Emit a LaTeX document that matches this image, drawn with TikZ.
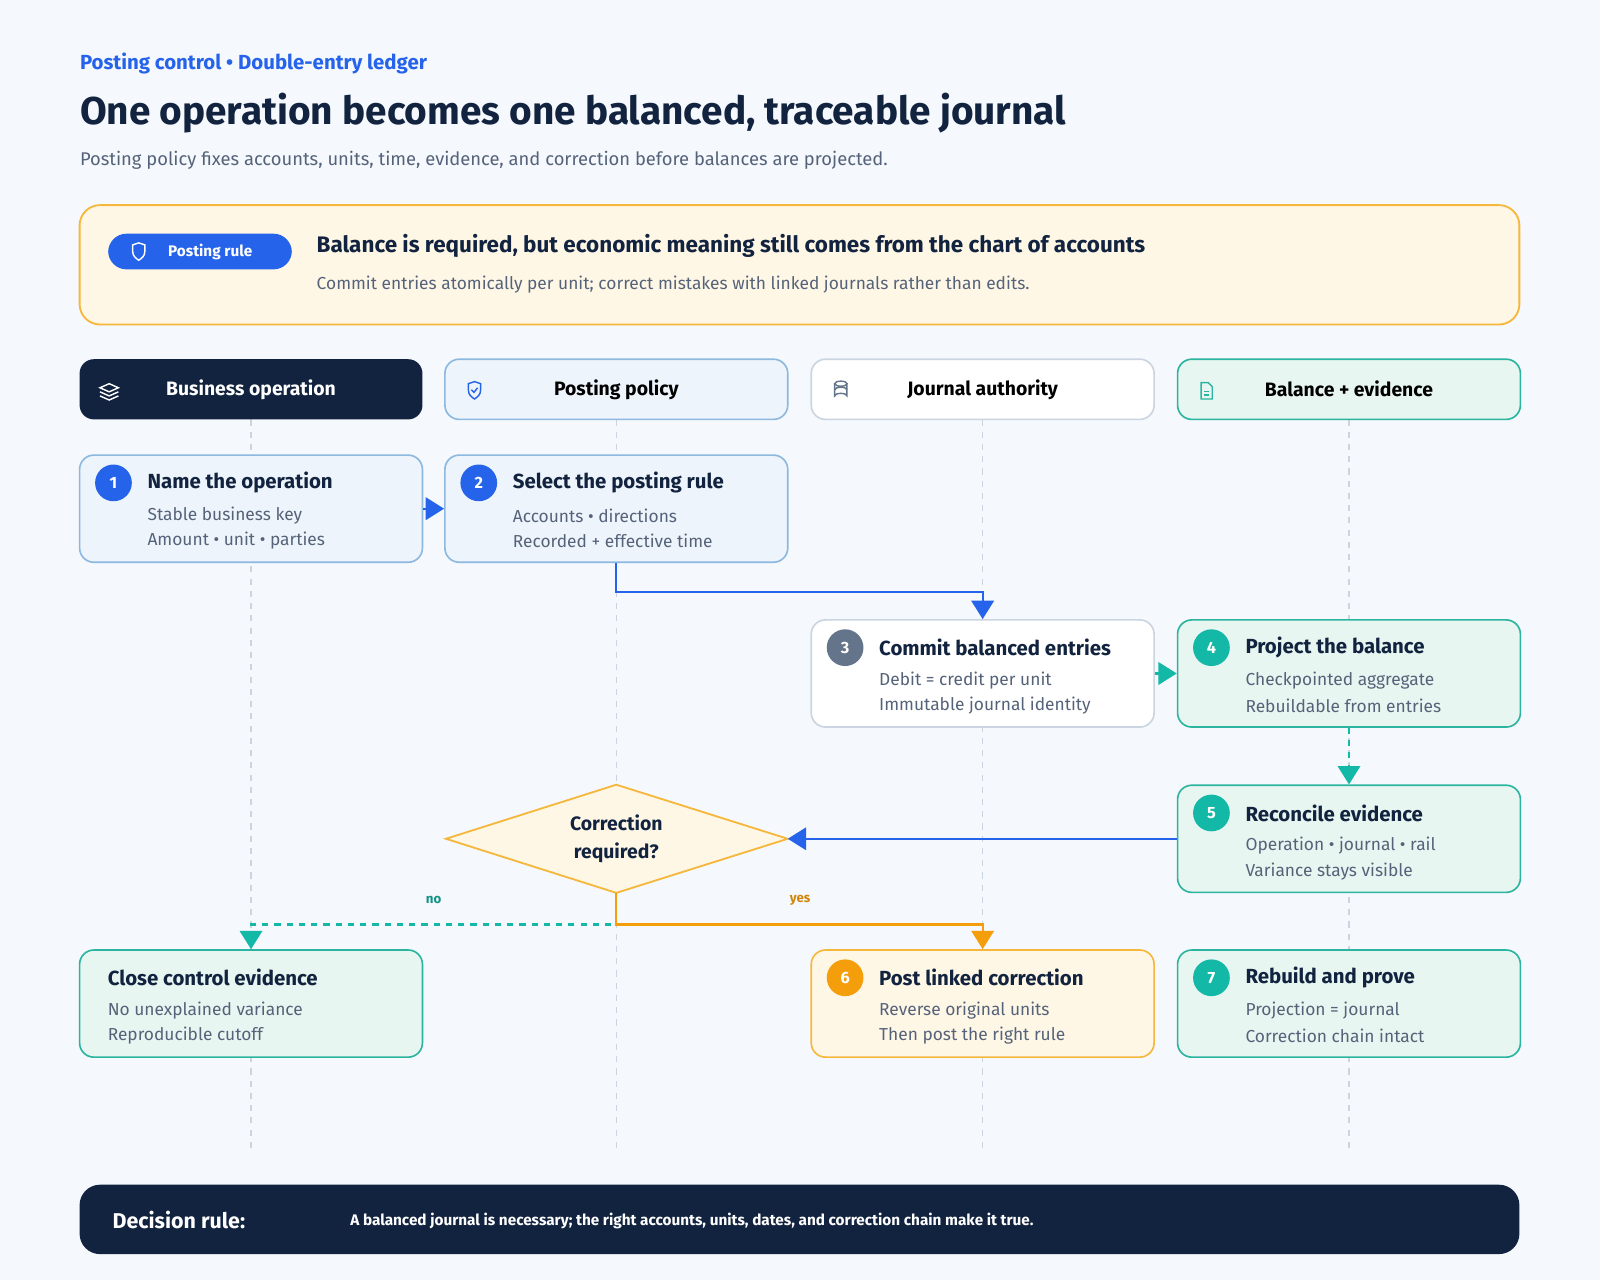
\documentclass[tikz,border=0pt]{standalone}
\usepackage{fontspec}
\setmainfont{Fira Sans}
\usetikzlibrary{arrows.meta}
\definecolor{bgc}{HTML}{F5F8FC}
\definecolor{ink}{HTML}{12233F}
\definecolor{mute}{HTML}{55637A}
\definecolor{blu}{HTML}{2563EB}
\definecolor{bluf}{HTML}{EEF4FB}
\definecolor{blus}{HTML}{8DB8E0}
\definecolor{gryc}{HTML}{64748B}
\definecolor{grys}{HTML}{CBD5E1}
\definecolor{teal}{HTML}{14B8A6}
\definecolor{tealf}{HTML}{E8F6F1}
\definecolor{teals}{HTML}{2BB5A0}
\definecolor{orn}{HTML}{F59E0B}
\definecolor{ornf}{HTML}{FFF7E6}
\definecolor{orns}{HTML}{F5B83D}
\tikzset{
  lane/.style={rounded corners=7pt, minimum width=168pt, minimum height=29.5pt, line width=0.8pt, font=\bfseries\fontsize{9.5}{11}\selectfont},
  card/.style={rounded corners=7pt, minimum width=168pt, minimum height=52.5pt, line width=0.8pt},
  num/.style={circle, minimum size=18pt, inner sep=0pt, text=white, font=\bfseries\fontsize{8}{9}\selectfont},
  ctitle/.style={anchor=west, inner sep=0pt, text=ink, font=\bfseries\fontsize{10}{12}\selectfont},
  cline/.style={anchor=west, inner sep=0pt, text=mute, font=\fontsize{8.5}{10}\selectfont},
  flow/.style={line width=1.1pt, -{Triangle[length=9pt,width=11pt]}},
  guide/.style={grys, dashed, line width=0.6pt}
}
% card: name, center x, center y, fill, stroke, badge colour, number, title, line 1, line 2
\newcommand{\card}[9]{%
  \node[card, fill=#4, draw=#5] (#1) at (#2,#3) {};
  \node[num, fill=#6] (#1n) at ([xshift=17pt,yshift=-14pt]#1.north west) {#7};
  \node[ctitle] (#1t) at ([xshift=33.5pt,yshift=-14pt]#1.north west) {#8};
  \node[cline] (#1a) at ([xshift=33.5pt,yshift=-30pt]#1.north west) {#9};
}
\begin{document}
\begin{tikzpicture}[x=0.5pt, y=-0.5pt]
\fill[bgc] (0,0) rectangle (1568,1254);
\useasboundingbox (0,0) rectangle (1568,1254);
% heading
\node[anchor=west, inner sep=0pt, text=blu, font=\bfseries\fontsize{10}{12}\selectfont] (eyebrow) at (78,62) {Posting control • Double-entry ledger};
\node[anchor=west, inner sep=0pt, text=ink, font=\bfseries\fontsize{19}{22}\selectfont] (title) at (78,111) {One operation becomes one balanced, traceable journal};
\node[anchor=west, inner sep=0pt, text=mute, font=\fontsize{9}{11}\selectfont] (subtitle) at (78,157) {Posting policy fixes accounts, units, time, evidence, and correction before balances are projected.};
% banner
\draw[fill=ornf, draw=orns, line width=0.9pt, rounded corners=10pt] (78,201) rectangle (1489,318);
\node[fill=blu, rounded corners=9pt, minimum width=90pt, minimum height=17.5pt, text=white, font=\bfseries\fontsize{7.5}{9}\selectfont] (pill) at (196,246.5) {\hspace{10pt}Posting rule};
\draw[white, line width=0.7pt] (130,240) -- (136,238) -- (142,240) -- (142,246) .. controls (142,251) and (139,253) .. (136,255) .. controls (133,253) and (130,251) .. (130,246) -- cycle;
\node[anchor=west, inner sep=0pt, text=ink, font=\bfseries\fontsize{11}{13}\selectfont] (bannert) at (310,241) {Balance is required, but economic meaning still comes from the chart of accounts};
\node[anchor=west, inner sep=0pt, text=mute, font=\fontsize{8.5}{10}\selectfont] (bannerl) at (310,279) {Commit entries atomically per unit; correct mistakes with linked journals rather than edits.};
% lanes
\foreach \x in {246,604,963,1322} \draw[guide] (\x,411) -- (\x,1125);
\node[lane, fill=ink, text=white] (laneA) at (246,381.5) {Business operation};
\node[lane, fill=bluf, draw=blus] (laneB) at (604,381.5) {Posting policy};
\node[lane, fill=white, draw=grys] (laneC) at (963,381.5) {Journal authority};
\node[lane, fill=tealf, draw=teals] (laneD) at (1322,381.5) {Balance + evidence};
% lane icons
\draw[white, line width=0.7pt] (107,376) -- (116,380) -- (107,384) -- (98,380) -- cycle;
\draw[white, line width=0.7pt] (98,384) -- (107,388) -- (116,384);
\draw[white, line width=0.7pt] (98,388) -- (107,392) -- (116,388);
\draw[blu, line width=0.7pt] (459,376) -- (465,374) -- (471,376) -- (471,382) .. controls (471,387) and (468,389) .. (465,391) .. controls (462,389) and (459,387) .. (459,382) -- cycle;
\draw[blu, line width=0.7pt] (462,382) -- (464.5,384.5) -- (468,380);
\draw[gryc, line width=0.7pt] (818,376) -- (818,388) arc[start angle=180, end angle=360, x radius=6, y radius=2.5] -- (830,376);
\draw[gryc, line width=0.7pt] (824,376) ellipse[x radius=6, y radius=2.5];
\draw[gryc, line width=0.7pt] (818,382) arc[start angle=180, end angle=360, x radius=6, y radius=2.5];
\draw[teals, line width=0.7pt] (1177,375) -- (1184,375) -- (1188,379) -- (1188,391) -- (1177,391) -- cycle;
\draw[teals, line width=0.6pt] (1180,384) -- (1185,384) (1180,387) -- (1185,387);
% cards
\card{opname}{246}{498.5}{bluf}{blus}{blu}{1}{Name the operation}{Stable business key}
\node[cline] (opnameb) at ([xshift=33.5pt,yshift=-42.5pt]opname.north west) {Amount • unit • parties};
\card{rule}{604}{498.5}{bluf}{blus}{blu}{2}{Select the posting rule}{Accounts • directions}
\node[cline] (ruleb) at ([xshift=33.5pt,yshift=-42.5pt]rule.north west) {Recorded + effective time};
\card{commit}{963}{660}{white}{grys}{gryc}{3}{Commit balanced entries}{Debit = credit per unit}
\node[cline] (commitb) at ([xshift=33.5pt,yshift=-42.5pt]commit.north west) {Immutable journal identity};
\card{project}{1322}{660}{tealf}{teals}{teal}{4}{Project the balance}{Checkpointed aggregate}
\node[cline] (projectb) at ([xshift=33.5pt,yshift=-42.5pt]project.north west) {Rebuildable from entries};
\card{recon}{1322}{822}{tealf}{teals}{teal}{5}{Reconcile evidence}{Operation • journal • rail}
\node[cline] (reconb) at ([xshift=33.5pt,yshift=-42.5pt]recon.north west) {Variance stays visible};
\card{fix}{963}{983.5}{ornf}{orns}{orn}{6}{Post linked correction}{Reverse original units}
\node[cline] (fixb) at ([xshift=33.5pt,yshift=-42.5pt]fix.north west) {Then post the right rule};
\card{prove}{1322}{983.5}{tealf}{teals}{teal}{7}{Rebuild and prove}{Projection = journal}
\node[cline] (proveb) at ([xshift=33.5pt,yshift=-42.5pt]prove.north west) {Correction chain intact};
\node[card, fill=tealf, draw=teals] (close) at (246,983.5) {};
\node[ctitle] (closet) at ([xshift=14pt,yshift=-14pt]close.north west) {Close control evidence};
\node[cline] (closea) at ([xshift=14pt,yshift=-30pt]close.north west) {No unexplained variance};
\node[cline] (closeb) at ([xshift=14pt,yshift=-42.5pt]close.north west) {Reproducible cutoff};
% decision
\draw[fill=ornf, draw=orns, line width=0.9pt] (437,822) -- (604,769) -- (772,822) -- (604,875) -- cycle;
\coordinate (dec) at (604,822);
\coordinate (decw) at (437,822);
\coordinate (dece) at (772,822);
\coordinate (decs) at (604,875);
\node[align=center, text=ink, font=\bfseries\fontsize{9.5}{14}\selectfont] (decq) at (dec) {Correction\\required?};
% connectors
\draw[flow, blu] (opname.east) -- (rule.west);
\draw[flow, blu] (rule.south) |- (783.5,580) -| (commit.north);
\draw[flow, teal] (commit.east) -- (project.west);
\draw[flow, teal, dashed] (project.south) -- (recon.north);
\draw[flow, blu] (recon.west) -- (dece);
\draw[flow, teal, dashed] (decs) |- (425,906) -| (close.north);
\draw[flow, orn] (decs) |- (783.5,906) -| (fix.north);
\node[text=teal!80!black, font=\bfseries\fontsize{6.5}{8}\selectfont] (nolab) at (425,882) {no};
\node[text=orn!85!black, font=\bfseries\fontsize{6.5}{8}\selectfont] (yeslab) at (784,882) {yes};
% decision rule bar
\node[fill=ink, rounded corners=10pt, minimum width=705.5pt, minimum height=34pt] (footer) at (783.5,1195) {};
\node[anchor=west, inner sep=0pt, text=white, font=\bfseries\fontsize{10.5}{12}\selectfont] (footk) at (110,1196) {Decision rule:};
\node[anchor=west, inner sep=0pt, text=white, font=\bfseries\fontsize{7.5}{9}\selectfont] (footv) at (343,1197) {A balanced journal is necessary; the right accounts, units, dates, and correction chain make it true.};
\end{tikzpicture}
\end{document}
